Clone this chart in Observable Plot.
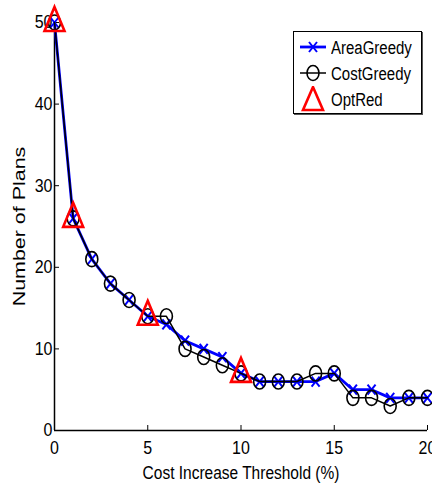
<!DOCTYPE html>
<html><head><meta charset="utf-8">
<script src="https://cdn.jsdelivr.net/npm/d3@7"></script>
<script src="https://cdn.jsdelivr.net/npm/@observablehq/plot@0.6"></script>
<style>
body{margin:0;background:#fff;font-family:"Liberation Sans",Arial,sans-serif;}
#wrap{position:relative;width:432px;height:483px;overflow:hidden;}
#legend{position:absolute;left:293px;top:31px;width:127px;height:81px;border:1.5px solid #000;background:#fff;box-shadow:1px 1px 0 #555;}
#legend div{position:absolute;left:0;height:26px;display:flex;align-items:center;font-size:15px;}
#legend span{display:inline-block;transform:scaleY(1.2);}
#legend svg{margin-left:5px;margin-right:4px;}
</style></head>
<body><div id="wrap"></div>
<script>
const thresholds = [0,1,2,3,4,5,6,7,8,9,10,11,12,13,14,15,16,17,18,19,20];
const areaGreedy = [50,26,21,18,16,14,13,11,10,9,7,6,6,6,6,7,5,5,4,4,4];
const costGreedy = [50,26,21,18,16,14,14,10,9,8,7,6,6,6,7,7,4,4,3,4,4];
const optRedX = [0,1,5,10];
const optRedY = [50,26,14,7];
const xTicks = [0,5,10,15,20];
const yTicks = [0,10,20,30,40,50];
const seriesNames = ["AreaGreedy","CostGreedy","OptRed"];

const area = thresholds.map((x,i)=>({x, y: areaGreedy[i]}));
const cost = thresholds.map((x,i)=>({x, y: costGreedy[i]}));
const opt = optRedX.map((x,i)=>({x, y: optRedY[i]}));

// vertically stretched marker shapes (the reference figure is stretched ~1.25x vertically)
const SY = 1.25;
const ellipseSym = {draw(ctx, size){
  const r = Math.sqrt(size/Math.PI), rx = r, ry = r*SY, k = 0.5523;
  ctx.moveTo(rx,0);
  ctx.bezierCurveTo(rx, k*ry, k*rx, ry, 0, ry);
  ctx.bezierCurveTo(-k*rx, ry, -rx, k*ry, -rx, 0);
  ctx.bezierCurveTo(-rx, -k*ry, -k*rx, -ry, 0, -ry);
  ctx.bezierCurveTo(k*rx, -ry, rx, -k*ry, rx, 0);
  ctx.closePath();
}};
const timesSym = {draw(ctx, size){
  const r = Math.sqrt(size/Math.PI);
  ctx.moveTo(-r,-r*SY); ctx.lineTo(r,r*SY);
  ctx.moveTo(r,-r*SY); ctx.lineTo(-r,r*SY);
}};
const triSym = {draw(ctx, size){
  const r = Math.sqrt(size/Math.PI);
  ctx.moveTo(0,-1.55*r); ctx.lineTo(r,0.85*r); ctx.lineTo(-r,0.85*r); ctx.closePath();
}};

const plot = Plot.plot({
  width: 432, height: 483,
  marginLeft: 54, marginRight: 5, marginTop: 22, marginBottom: 53,
  style: {fontFamily: "Liberation Sans, Arial, sans-serif", fontSize: "16px", overflow: "visible", background: "#fff"},
  x: {domain: [0,20]},
  y: {domain: [0,50]},
  marks: [
    Plot.axisX({ticks: xTicks, tickSize: -5, tickPadding: 0, text: null, label: null, stroke: "#000"}),
    Plot.axisY({ticks: yTicks, tickSize: -5, tickPadding: 0, text: null, label: null, stroke: "#000"}),
    Plot.axisX({ticks: xTicks, tickSize: 0, tickPadding: 10, fontSize: 16, color: "#000", label: "Cost Increase Threshold (%)", labelAnchor: "center", labelOffset: 48, labelArrow: "none"}),
    Plot.axisY({ticks: yTicks, tickSize: 0, tickPadding: 2, fontSize: 16, color: "#000", label: "Number of Plans", labelAnchor: "center", labelOffset: 41, labelArrow: "none"}),
    Plot.ruleX([0], {stroke: "#000", strokeWidth: 1.5}),
    Plot.ruleY([0], {stroke: "#000", strokeWidth: 1.5}),
    Plot.line(area, {x: "x", y: "y", stroke: "#0000ff", strokeWidth: 2.8}),
    Plot.dot(area, {x: "x", y: "y", symbol: timesSym, stroke: "#0000ff", strokeWidth: 2, r: 4}),
    Plot.line(cost, {x: "x", y: "y", stroke: "#000", strokeWidth: 1.5}),
    Plot.dot(cost, {x: "x", y: "y", symbol: ellipseSym, stroke: "#000", strokeWidth: 1.6, r: 6, fill: "none"}),
    Plot.dot(opt, {x: "x", y: "y", symbol: triSym, stroke: "#ff0000", strokeWidth: 2.6, r: 10, fill: "none"})
  ]
});

function stretch(t, sx, sy){
  const tr = t.getAttribute("transform") || "";
  t.setAttribute("transform", `${tr} scale(${sx},${sy})`);
}
plot.querySelectorAll("[aria-label='x-axis tick label'] text, [aria-label='y-axis tick label'] text").forEach(t=>stretch(t,1,1.15));
plot.querySelectorAll("[aria-label='x-axis label'] text").forEach(t=>{t.setAttribute("font-size","15.5"); stretch(t,1,1.18);});
plot.querySelectorAll("[aria-label='y-axis label'] text").forEach(t=>{t.setAttribute("font-size","16.5"); stretch(t,1.3,1);});

const wrap = document.getElementById("wrap");
wrap.appendChild(plot);

const legend = document.createElement("div");
legend.id = "legend";
const sym = [
  '<svg width="28" height="20"><line x1="1" y1="10" x2="27" y2="10" stroke="#00f" stroke-width="2.8"/><path d="M10,5L18,15M18,5L10,15" stroke="#00f" stroke-width="2"/></svg>',
  '<svg width="28" height="20"><line x1="1" y1="10" x2="27" y2="10" stroke="#000" stroke-width="1.5"/><ellipse cx="14" cy="10" rx="6" ry="7.5" fill="none" stroke="#000" stroke-width="1.6"/></svg>',
  '<svg width="28" height="26"><path d="M14,1L24,24L4,24Z" fill="none" stroke="#f00" stroke-width="2.6"/></svg>'
];
seriesNames.forEach((n,i)=>{
  const d = document.createElement("div");
  d.style.top = (2 + i*26) + "px";
  d.innerHTML = sym[i] + "<span>" + n + "</span>";
  legend.appendChild(d);
});
wrap.appendChild(legend);
</script></body></html>
